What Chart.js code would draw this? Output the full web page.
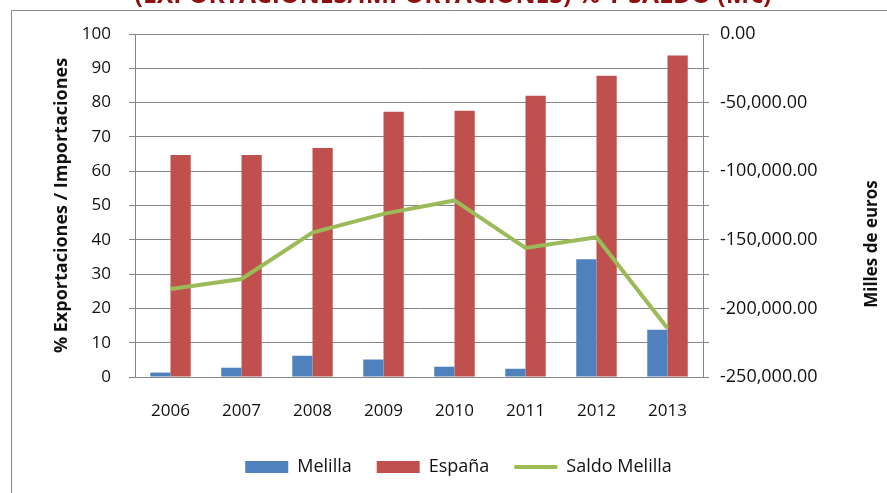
<!DOCTYPE html>
<html>
<head>
<meta charset="utf-8">
<script src="https://cdn.jsdelivr.net/npm/chart.js"></script>
<style>
  html, body { margin: 0; padding: 0; background: #fff; overflow: hidden; }
  #wrap { position: relative; width: 887px; height: 493px; }
  #filo { position: absolute; left: 11px; top: 480px; width: 1px; height: 13px; background: #868686; }
</style>
</head>
<body>
<div id="wrap">
<canvas id="chartMelilla" width="887" height="486"></canvas>
<div id="filo"></div>
</div>
<script>
const years = ['2006', '2007', '2008', '2009', '2010', '2011', '2012', '2013'];
const melilla = [1.3, 2.7, 6.2, 5.1, 3.0, 2.4, 34.3, 13.8];
const espana = [64.7, 64.7, 66.8, 77.3, 77.6, 82.0, 87.8, 93.7];
const saldoMelilla = [-185900, -178600, -144700, -131100, -121300, -155900, -148100, -214400];

const titulo = '(EXPORTACIONES/IMPORTACIONES) % Y SALDO (M€)';
const tituloDerecho = 'Milles de euros';
const gris = '#868686';
const fuente = "'Open Sans', sans-serif";

// marco gris, titulo cortado arriba y titulo del eje derecho
const marco = {
    id: 'marco',
    afterLayout(chart) {
        // la leyenda del original no esta centrada, va algo a la derecha
        if (chart.legend) {
            chart.legend.left += 15;
            chart.legend.right += 15;
        }
    },
    beforeDraw(chart) {
        const c = chart.ctx;
        c.save();
        c.fillStyle = '#fff';
        c.fillRect(0, 0, chart.width, chart.height);
        c.strokeStyle = gris;
        c.lineWidth = 1;
        c.beginPath();
        c.moveTo(11.5, chart.height);
        c.lineTo(11.5, 10.5);
        c.lineTo(chart.width, 10.5);
        c.stroke();
        c.fillStyle = '#8e1010';
        c.font = 'bold 25px ' + fuente;
        c.textAlign = 'center';
        c.textBaseline = 'alphabetic';
        c.fillText(titulo, 453, 3, 637);
        c.restore();
    },
    afterDraw(chart) {
        const c = chart.ctx;
        c.save();
        c.translate(872, 244);
        c.rotate(-Math.PI / 2);
        c.fillStyle = '#111';
        c.font = 'bold 17px ' + fuente;
        c.textAlign = 'center';
        c.textBaseline = 'middle';
        c.fillText(tituloDerecho, 0, 0);
        c.restore();
    }
};

const ctx = document.getElementById('chartMelilla').getContext('2d');
new Chart(ctx, {
    type: 'bar',
    data: {
        labels: years,
        datasets: [{
            label: 'Melilla',
            data: melilla,
            backgroundColor: '#4F81BD',
            yAxisID: 'y',
            order: 1
        }, {
            label: 'España',
            data: espana,
            backgroundColor: '#C0504D',
            yAxisID: 'y',
            order: 1
        }, {
            type: 'line',
            label: 'Saldo Melilla',
            data: saldoMelilla,
            borderColor: '#9BBB59',
            backgroundColor: '#9BBB59',
            borderWidth: 4,
            pointRadius: 0,
            tension: 0,
            yAxisID: 'y1',
            order: 0
        }]
    },
    options: {
        responsive: false,
        animation: false,
        categoryPercentage: 0.57,
        barPercentage: 1,
        layout: { padding: { top: 34, left: 0, right: 0, bottom: 0 } },
        plugins: {
            title: { display: false },
            tooltip: { enabled: false },
            legend: {
                position: 'bottom',
                labels: {
                    font: { family: fuente, size: 18 },
                    color: '#111',
                    usePointStyle: true,
                    pointStyleWidth: 43,
                    boxHeight: 12,
                    padding: 25,
                    sort: (a, b) => a.datasetIndex - b.datasetIndex,
                    generateLabels(chart) {
                        const items = Chart.defaults.plugins.legend.labels.generateLabels(chart);
                        items.forEach(it => {
                            const ds = chart.data.datasets[it.datasetIndex];
                            it.pointStyle = ds.type === 'line' ? 'line' : 'rect';
                        });
                        return items;
                    }
                }
            }
        },
        scales: {
            x: {
                grid: { display: false, drawTicks: false },
                border: { display: true, color: gris },
                ticks: { font: { family: fuente, size: 17 }, color: '#111', padding: 24 },
                afterFit(scale) { scale.height = 56; }
            },
            y: {
                position: 'left',
                min: 0,
                max: 100,
                ticks: { stepSize: 10, font: { family: fuente, size: 17 }, color: '#111', padding: 18 },
                grid: { color: gris, tickColor: gris, tickLength: 6 },
                border: { display: true, color: gris },
                title: {
                    display: true,
                    text: '% Exportaciones / Importaciones',
                    font: { family: fuente, size: 18, weight: 'bold' },
                    color: '#111',
                    padding: { top: 51, bottom: 0 }
                },
                afterFit(scale) { scale.width = 135; }
            },
            y1: {
                position: 'right',
                min: -250000,
                max: 0,
                ticks: {
                    stepSize: 25000,
                    autoSkip: false,
                    font: { family: fuente, size: 18 },
                    color: '#111',
                    padding: 11,
                    callback(v) {
                        return v % 50000 === 0
                            ? v.toLocaleString('en-US', { minimumFractionDigits: 2, maximumFractionDigits: 2 })
                            : '';
                    }
                },
                grid: { drawOnChartArea: false, color: gris, tickColor: gris, tickLength: 6 },
                border: { display: true, color: gris },
                afterFit(scale) { scale.width = 184; }
            }
        }
    },
    plugins: [marco]
});
</script>
</body>
</html>
